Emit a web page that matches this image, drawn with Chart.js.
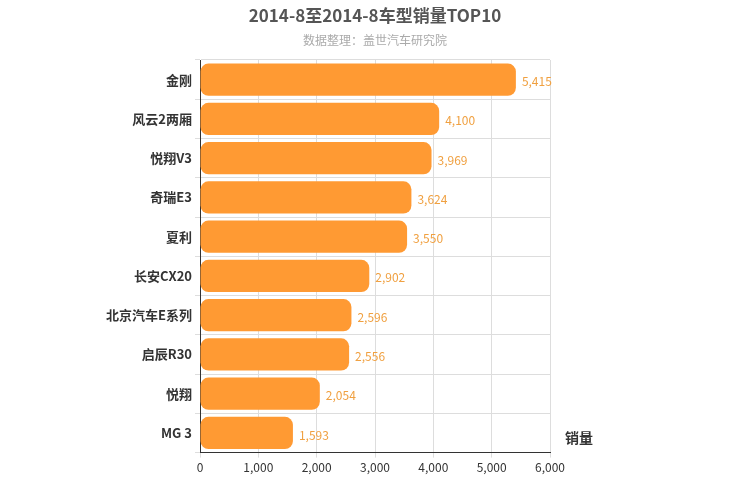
<!DOCTYPE html>
<html><head><meta charset="utf-8">
<script src="https://cdn.jsdelivr.net/npm/chart.js@4"></script>
<style>body{margin:0;background:#fff}#wrap{width:750px;height:500px}</style>
</head><body><div id="wrap"><canvas id="c"></canvas></div>
<script>
// Categories and sales values
const models = ['金刚', '风云2两厢', '悦翔V3', '奇瑞E3', '夏利', '长安CX20', '北京汽车E系列', '启辰R30', '悦翔', 'MG 3'];
const sales = [5415, 4100, 3969, 3624, 3550, 2902, 2596, 2556, 2054, 1593];
const xTicks = [0, 1000, 2000, 3000, 4000, 5000, 6000];

const fontFamily = '"Noto Sans CJK SC", "DejaVu Sans", sans-serif';

// Titles, axis name and value labels
const extras = {
    id: 'extras',
    afterDraw(chart) {
        const ctx = chart.ctx;
        ctx.save();
        ctx.textAlign = 'center';
        ctx.fillStyle = '#555';
        ctx.font = 'bold 17px ' + fontFamily;
        ctx.fillText('2014-8至2014-8车型销量TOP10', 375, 22);
        ctx.fillStyle = '#aaa';
        ctx.font = '12px ' + fontFamily;
        ctx.fillText('数据整理：盖世汽车研究院', 375, 45);
        ctx.fillStyle = '#333';
        ctx.font = 'bold 14px ' + fontFamily;
        ctx.textAlign = 'left';
        ctx.fillText('销量', 565, 443);
        const meta = chart.getDatasetMeta(0);
        ctx.fillStyle = '#f0a040';
        ctx.font = '12px ' + fontFamily;
        ctx.textBaseline = 'middle';
        meta.data.forEach((bar, i) => {
            ctx.fillText(sales[i].toLocaleString('en-US'), bar.x + 6, bar.y + 2);
        });
        ctx.restore();
    }
};

new Chart(document.getElementById('c'), {
    type: 'bar',
    data: {
        labels: models,
        datasets: [{
            data: sales,
            backgroundColor: '#ff9a33',
            borderRadius: 8,
            borderSkipped: false,
            categoryPercentage: 1,
            barPercentage: 0.82
        }]
    },
    options: {
        indexAxis: 'y',
        responsive: true,
        maintainAspectRatio: false,
        animation: false,
        layout: { padding: { top: 60, right: 200, bottom: 22, left: 0 } },
        plugins: { legend: { display: false }, tooltip: { enabled: false } },
        scales: {
            x: {
                min: 0, max: 6000,
                afterBuildTicks: axis => { axis.ticks = xTicks.map(v => ({ value: v })); },
                ticks: { color: '#333', font: { size: 12, family: fontFamily }, callback: v => v.toLocaleString('en-US') },
                grid: { color: '#ddd', tickLength: 5 },
                border: { color: '#333' }
            },
            y: {
                afterFit: axis => { axis.width = 200; },
                ticks: { color: '#333', font: { size: 13, weight: 'bold', family: fontFamily } },
                grid: { color: '#ddd', tickLength: 5 },
                border: { color: '#333' }
            }
        }
    },
    plugins: [extras]
});
</script></body></html>
